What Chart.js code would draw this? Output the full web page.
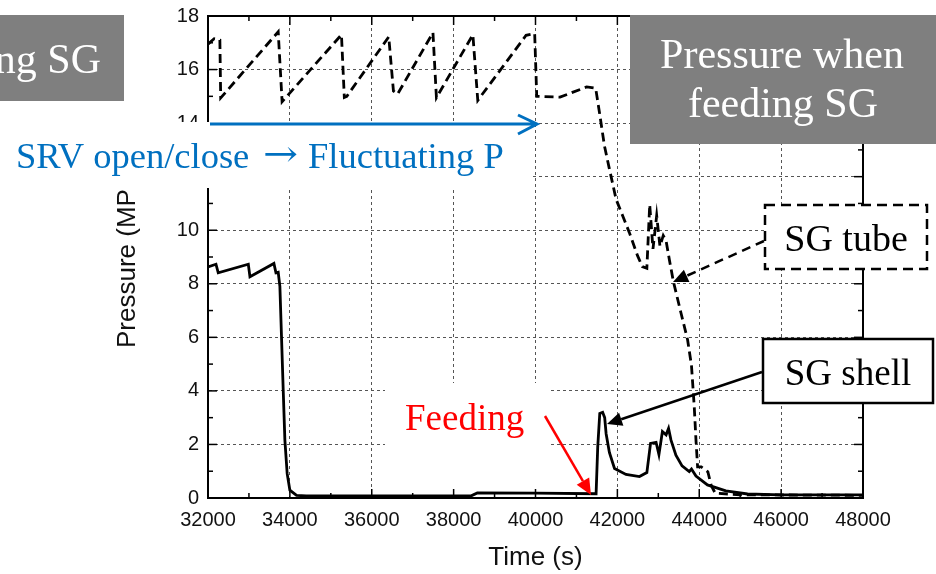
<!DOCTYPE html>
<html>
<head>
<meta charset="utf-8">
<script src="https://cdn.jsdelivr.net/npm/chart.js@4.4.1/dist/chart.umd.min.js"></script>
<style>
  body { margin: 0; background: #fff; }
</style>
</head>
<body>
<canvas id="grafico" width="936" height="574"></canvas>
<script>
// SG shell (linha cheia)
const tempoCasco = [32000, 32195, 32250, 32985, 33025, 33610, 33660, 33715, 33756, 33798, 33837, 33878, 33934, 34000, 34163, 34400,
  36000, 38000, 38430, 38580, 40000, 41480, 41520, 41570, 41640, 41690, 41725, 41805, 41930, 42210, 42540, 42720,
  42810, 42945, 43015, 43100, 43190, 43250, 43310, 43430, 43580, 43756, 43810, 43920, 44200, 44650, 45180, 46000, 48000];
const pressaoCasco = [8.63, 8.73, 8.41, 8.73, 8.26, 8.76, 8.41, 8.43, 7.9, 5.9, 4.04, 2.16, 0.91, 0.29, 0.1, 0.08,
  0.08, 0.08, 0.08, 0.19, 0.18, 0.16, 1.9, 3.16, 3.2, 3.0, 2.4, 1.7, 1.1, 0.88, 0.8, 0.95,
  2.04, 2.08, 1.62, 2.48, 2.36, 2.6, 2.16, 1.6, 1.2, 0.99, 1.08, 0.82, 0.49, 0.27, 0.15, 0.12, 0.12];

// SG tube (linha tracejada)
const tempoTubo = [32000, 32150, 32290, 32310, 33715, 33810, 35260, 35330, 35390, 36415, 36530, 36630, 37495, 37580, 38470, 38590,
  39770, 39980, 40030, 40600, 41250, 41470, 41561, 41683, 41805, 41968, 42129, 42293, 42495, 42610, 42720, 42790,
  42870, 42960, 43040, 43120, 43190, 43270, 43366, 43554, 43715, 43810, 43878, 43920, 43960, 44050, 44210, 44290,
  44390, 45000, 48000];
const pressaoTubo = [16.95, 17.15, 17.1, 14.94, 17.41, 14.8, 17.3, 14.96, 15.0, 17.22, 15.2, 15.08, 17.38, 14.95, 17.3, 14.85,
  17.28, 17.35, 15.0, 14.97, 15.35, 15.3, 14.41, 13.16, 12.29, 11.16, 10.54, 9.91, 9.04, 8.64, 8.58, 10.95,
  9.3, 10.55, 9.4, 9.8, 9.6, 8.9, 8.1, 6.91, 5.91, 4.95, 3.41, 2.16, 1.16, 1.16, 0.98, 0.48,
  0.18, 0.12, 0.1];

const ticksX = [32000, 34000, 36000, 38000, 40000, 42000, 44000, 46000, 48000];
const ticksY = [0, 2, 4, 6, 8, 10, 12, 14, 16, 18];

function pontos(ts, ps) {
  return ts.map((t, i) => ({ x: t, y: ps[i] }));
}

function seta(ctx, x1, y1, x2, y2, cor, largura, tracejado, cab) {
  const ang = Math.atan2(y2 - y1, x2 - x1);
  const bx = x2 - Math.cos(ang) * cab;
  const by = y2 - Math.sin(ang) * cab;
  ctx.save();
  ctx.strokeStyle = cor;
  ctx.fillStyle = cor;
  ctx.lineWidth = largura;
  ctx.setLineDash(tracejado || []);
  ctx.beginPath();
  ctx.moveTo(x1, y1);
  ctx.lineTo(bx, by);
  ctx.stroke();
  ctx.setLineDash([]);
  const w = cab * 0.45;
  ctx.beginPath();
  ctx.moveTo(x2, y2);
  ctx.lineTo(bx + Math.sin(ang) * w, by - Math.cos(ang) * w);
  ctx.lineTo(bx - Math.sin(ang) * w, by + Math.cos(ang) * w);
  ctx.closePath();
  ctx.fill();
  ctx.restore();
}

const moldura = {
  id: 'moldura',
  beforeDatasetsDraw(chart) {
    const { ctx, chartArea: a, scales: { x, y } } = chart;
    ctx.save();
    ctx.strokeStyle = '#000';
    ctx.lineWidth = 1.5;
    const traco = (x1, y1, x2, y2) => { ctx.beginPath(); ctx.moveTo(x1, y1); ctx.lineTo(x2, y2); ctx.stroke(); };
    for (let i = 0; i < ticksX.length; i++) {
      const v = ticksX[i];
      const px = x.getPixelForValue(v);
      traco(px, a.bottom, px, a.bottom - 9);
      traco(px, a.top, px, a.top + 9);
      if (i < ticksX.length - 1) {
        const pm = x.getPixelForValue((v + ticksX[i + 1]) / 2);
        traco(pm, a.bottom, pm, a.bottom - 5);
        traco(pm, a.top, pm, a.top + 5);
      }
    }
    for (let i = 0; i < ticksY.length; i++) {
      const v = ticksY[i];
      const py = y.getPixelForValue(v);
      traco(a.left, py, a.left + 9, py);
      traco(a.right, py, a.right - 9, py);
      if (i < ticksY.length - 1) {
        const pm = y.getPixelForValue((v + ticksY[i + 1]) / 2);
        traco(a.left, pm, a.left + 5, pm);
        traco(a.right, pm, a.right - 5, pm);
      }
    }
    ctx.lineWidth = 2;
    traco(a.left, a.top, a.right, a.top);
    traco(a.right, a.top, a.right, a.bottom);
    ctx.restore();
  },
  afterDraw(chart) {
    const ctx = chart.ctx;
    ctx.save();

    // fundos brancos das legendas
    ctx.fillStyle = '#fff';
    ctx.fillRect(0, 122, 533, 66);
    ctx.fillRect(385, 383, 163, 104);

    // caixas cinzas
    ctx.fillStyle = '#7f7f7f';
    ctx.fillRect(0, 15, 124, 86);
    ctx.fillRect(630, 15, 306, 129);
    ctx.fillStyle = '#fff';
    ctx.font = '42px "Liberation Serif"';
    ctx.textAlign = 'right';
    ctx.textBaseline = 'alphabetic';
    ctx.fillText('ng SG', 101, 73);
    ctx.textAlign = 'center';
    ctx.fillText('Pressure when', 782, 68);
    ctx.fillText('feeding SG', 783, 117);

    // SRV
    ctx.fillStyle = '#0070c0';
    ctx.font = '36.5px "Liberation Serif"';
    ctx.textAlign = 'left';
    ctx.fillText('SRV open/close', 16, 168);
    ctx.fillText('Fluctuating P', 308, 168);
    ctx.save();
    ctx.translate(263, 168);
    ctx.font = '36.5px "DejaVu Serif"';
    const wSeta = ctx.measureText('\u2192').width;
    ctx.scale(35 / wSeta, 1);
    ctx.fillText('\u2192', 0, -2);
    ctx.restore();
    ctx.strokeStyle = '#0070c0';
    ctx.lineWidth = 3;
    ctx.beginPath();
    ctx.moveTo(210, 124);
    ctx.lineTo(536, 124);
    ctx.moveTo(518, 115);
    ctx.lineTo(537, 124);
    ctx.lineTo(518, 134);
    ctx.stroke();

    // Feeding
    ctx.fillStyle = '#ff0000';
    ctx.font = '37px "Liberation Serif"';
    ctx.fillText('Feeding', 405, 430);
    seta(ctx, 545, 416, 591, 495, '#ff0000', 2.5, null, 16);

    // SG tube
    ctx.fillStyle = '#fff';
    ctx.fillRect(765, 205, 162, 64);
    ctx.strokeStyle = '#000';
    ctx.lineWidth = 2.5;
    ctx.setLineDash([10, 6]);
    ctx.strokeRect(765, 205, 162, 64);
    ctx.setLineDash([]);
    ctx.fillStyle = '#000';
    ctx.font = '38px "Liberation Serif"';
    ctx.textAlign = 'center';
    ctx.fillText('SG tube', 846, 251);
    seta(ctx, 764, 241, 673, 282, '#000', 2.5, [9, 6], 15);

    // SG shell
    ctx.fillStyle = '#fff';
    ctx.fillRect(763, 339, 170, 64);
    ctx.strokeStyle = '#000';
    ctx.lineWidth = 2.5;
    ctx.strokeRect(763, 339, 170, 64);
    ctx.fillStyle = '#000';
    ctx.font = '37px "Liberation Serif"';
    ctx.fillText('SG shell', 848, 385);
    seta(ctx, 762, 372, 607, 424, '#000', 2.5, null, 15);

    ctx.restore();
  }
};

new Chart(document.getElementById('grafico'), {
  type: 'line',
  data: {
    datasets: [
      {
        label: 'SG shell',
        data: pontos(tempoCasco, pressaoCasco),
        borderColor: '#000',
        borderWidth: 2.8,
        pointRadius: 0,
        tension: 0
      },
      {
        label: 'SG tube',
        data: pontos(tempoTubo, pressaoTubo),
        borderColor: '#000',
        borderWidth: 2.8,
        borderDash: [9, 5],
        pointRadius: 0,
        tension: 0
      }
    ]
  },
  options: {
    responsive: false,
    animation: false,
    layout: { padding: { left: 100, right: 73, top: 16, bottom: 0 } },
    plugins: { legend: { display: false }, tooltip: { enabled: false } },
    scales: {
      x: {
        type: 'linear',
        min: 32000,
        max: 48000,
        afterBuildTicks: s => { s.ticks = ticksX.map(v => ({ value: v })); },
        afterFit: s => { s.height = 76; },
        grid: { color: '#555', lineWidth: 1, drawTicks: false },
        border: { display: true, color: '#000', width: 2, dash: [3, 3] },
        ticks: {
          padding: 10,
          maxRotation: 0,
          autoSkip: false,
          color: '#111',
          font: { family: '"Liberation Sans"', size: 20 },
          callback: v => String(v)
        },
        title: {
          display: true,
          text: 'Time (s)',
          color: '#111',
          font: { family: '"Liberation Sans"', size: 26 },
          padding: { top: 0, bottom: 1 }
        }
      },
      y: {
        min: 0,
        max: 18,
        afterBuildTicks: s => { s.ticks = ticksY.map(v => ({ value: v })); },
        afterFit: s => { s.width = 108; s.paddingTop = 0; s.paddingBottom = 0; },
        grid: { color: '#555', lineWidth: 1, drawTicks: false },
        border: { display: true, color: '#000', width: 2, dash: [3, 3] },
        ticks: {
          padding: 9,
          color: '#111',
          font: { family: '"Liberation Sans"', size: 20 },
          callback: v => String(v)
        },
        title: {
          display: true,
          text: 'Pressure (MPa)',
          color: '#111',
          font: { family: '"Liberation Sans"', size: 26 },
          padding: { top: 12, bottom: 0 }
        }
      }
    }
  },
  plugins: [moldura]
});
</script>
</body>
</html>
